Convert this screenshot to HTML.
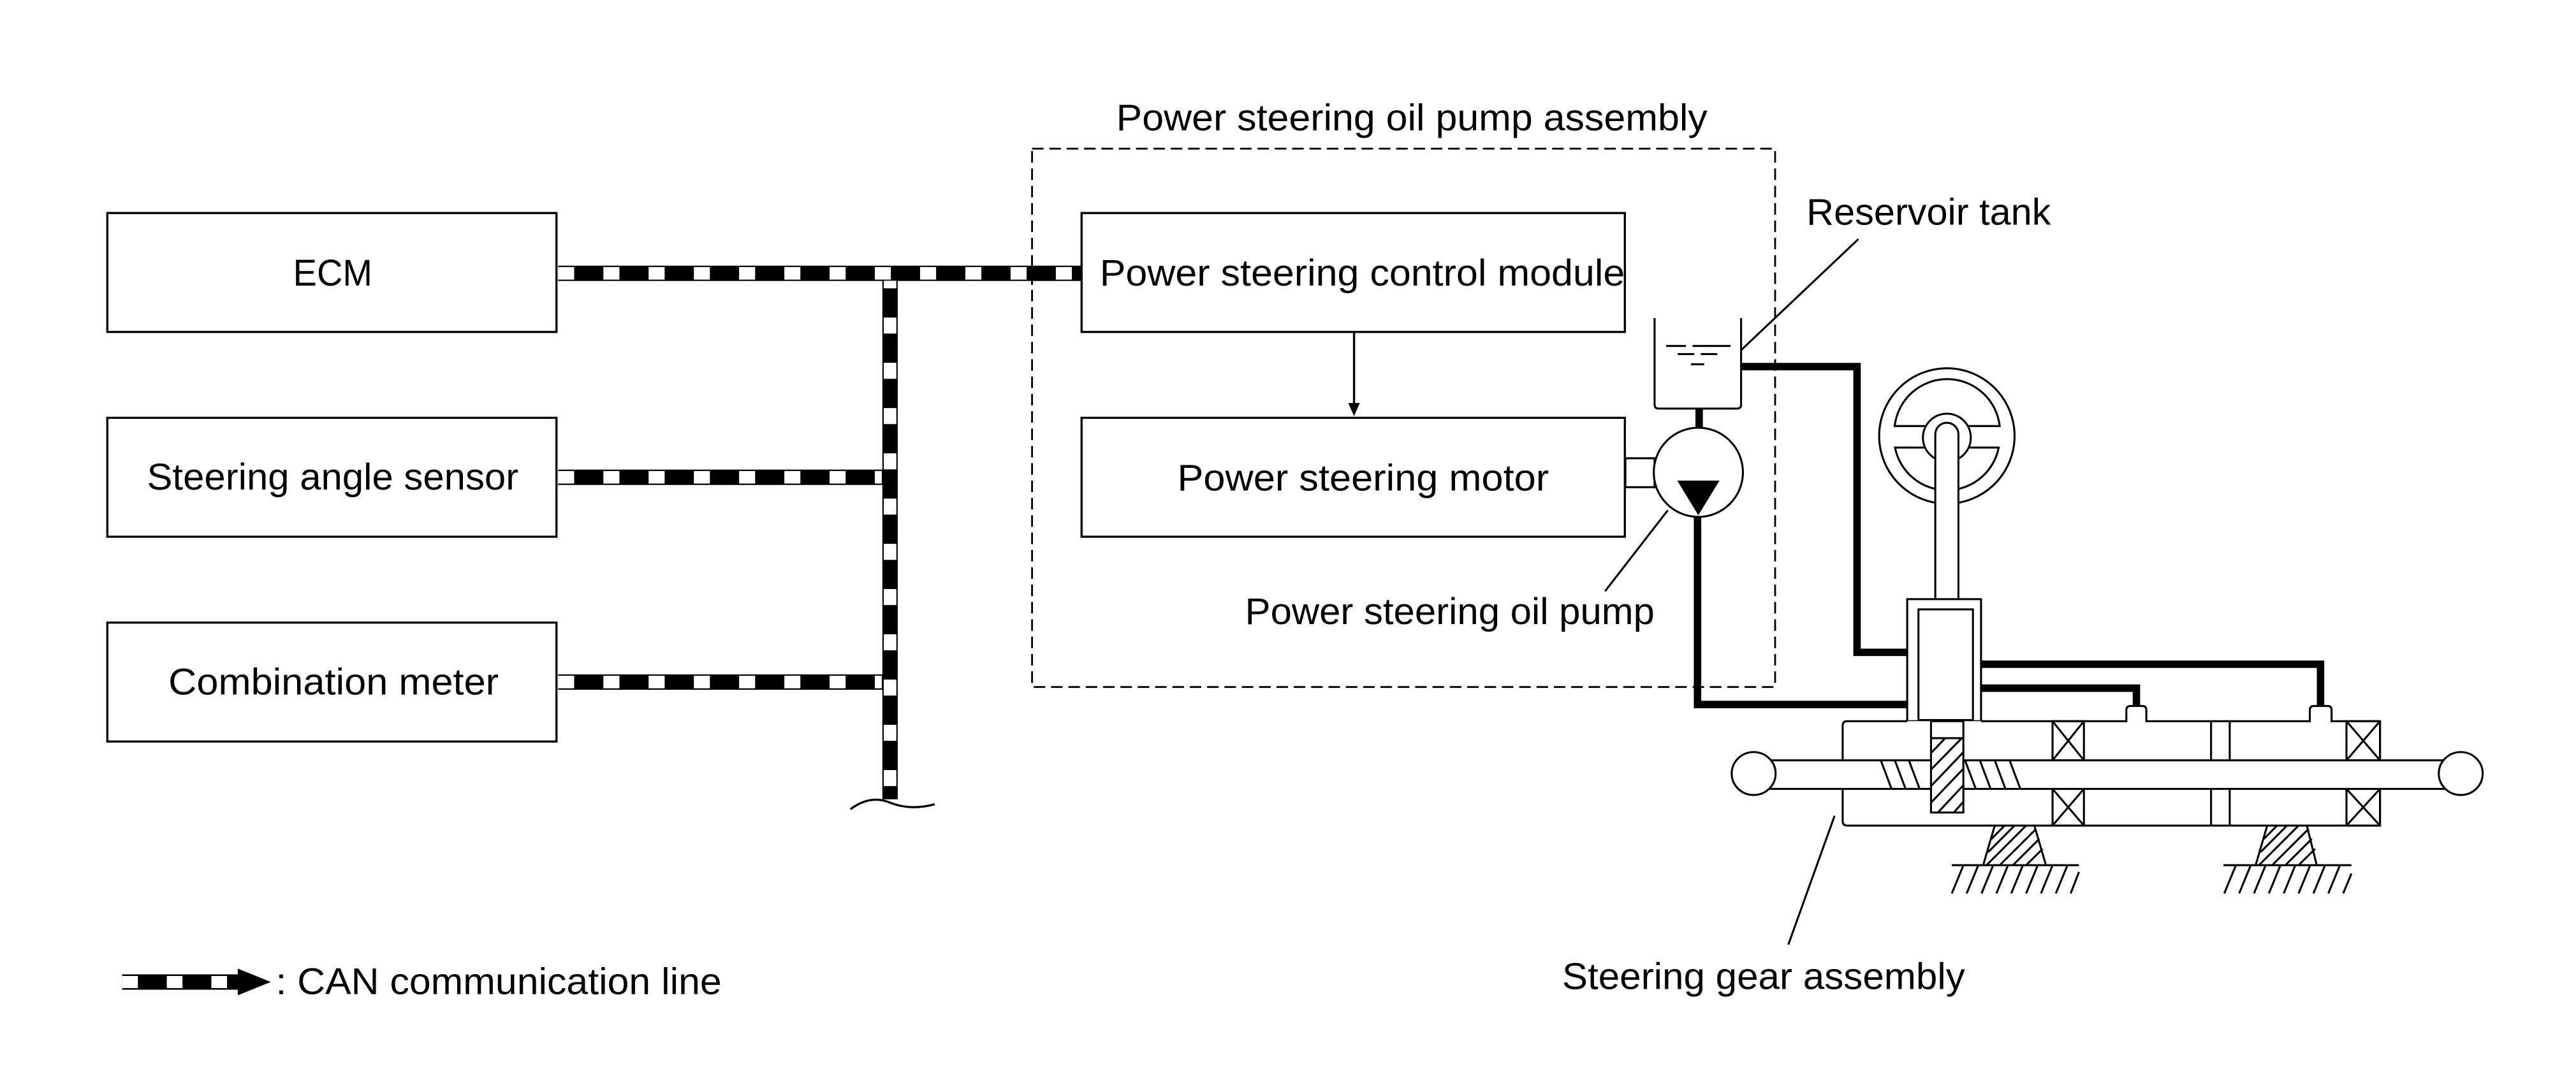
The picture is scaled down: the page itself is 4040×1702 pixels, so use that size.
<!DOCTYPE html>
<html><head><meta charset="utf-8"><style>
html,body{margin:0;padding:0;background:#fff;}
svg{display:block;}
text{font-family:"Liberation Sans",Arial,sans-serif;font-size:22.5px;fill:#000;}
</style></head><body>
<svg width="4040" height="1702" viewBox="0 0 1560 657" preserveAspectRatio="none" xmlns="http://www.w3.org/2000/svg">
<rect width="1560" height="657" fill="#fff"/>
<g fill="none" stroke="#000" stroke-width="1.3">
<!-- left boxes -->
<rect x="65" y="129" width="272" height="72"/>
<rect x="65" y="253" width="272" height="72"/>
<rect x="65" y="377" width="272" height="72"/>
<!-- dashed assembly -->
<rect x="625" y="90" width="450" height="326" stroke-dasharray="7 3.5" stroke-width="1.1"/>
<rect x="655" y="129" width="329" height="72" fill="#fff"/>
<rect x="655" y="253" width="329" height="72" fill="#fff"/>
<line x1="820" y1="201" x2="820" y2="246"/>
</g>
<polygon points="816.5,244 823.5,244 820,252" fill="#000"/>

<!-- CAN bus -->
<g fill="none">
<line x1="539" y1="161" x2="539" y2="484" stroke="#000" stroke-width="9.3"/>
<line x1="338" y1="165.5" x2="655" y2="165.5" stroke="#000" stroke-width="9.3"/>
<line x1="338" y1="289" x2="539" y2="289" stroke="#000" stroke-width="9.3"/>
<line x1="338" y1="413" x2="539" y2="413" stroke="#000" stroke-width="9.3"/>
<line x1="338" y1="165.5" x2="655" y2="165.5" stroke="#fff" stroke-width="7.6" stroke-dasharray="9.7 17.7"/>
<line x1="338" y1="289" x2="534" y2="289" stroke="#fff" stroke-width="7.6" stroke-dasharray="9.7 17.7"/>
<line x1="338" y1="413" x2="534" y2="413" stroke="#fff" stroke-width="7.6" stroke-dasharray="9.7 17.7"/>
<line x1="539" y1="170" x2="539" y2="484" stroke="#fff" stroke-width="7.6" stroke-dasharray="9.7 17.7" stroke-dashoffset="5.1"/>
<path d="M515,490 Q527,481 539,486 Q551,491 566,487" stroke="#000" stroke-width="1.3"/>
</g>
<!-- dashed line over CAN -->
<line x1="625" y1="155" x2="625" y2="176" stroke="#000" stroke-width="1.1" stroke-dasharray="7 3.5"/>

<!-- labels -->
<text x="177.5" y="173" textLength="48" lengthAdjust="spacingAndGlyphs">ECM</text>
<text x="89" y="296.5" textLength="225" lengthAdjust="spacingAndGlyphs">Steering angle sensor</text>
<text x="102" y="420.5" textLength="200" lengthAdjust="spacingAndGlyphs">Combination meter</text>
<text x="666" y="173" textLength="318" lengthAdjust="spacingAndGlyphs">Power steering control module</text>
<text x="713" y="297" textLength="225" lengthAdjust="spacingAndGlyphs">Power steering motor</text>
<text x="676" y="79" textLength="358" lengthAdjust="spacingAndGlyphs">Power steering oil pump assembly</text>
<text x="1094" y="136" textLength="148" lengthAdjust="spacingAndGlyphs">Reservoir tank</text>
<text x="754" y="378" textLength="248" lengthAdjust="spacingAndGlyphs">Power steering oil pump</text>
<text x="946" y="599" textLength="244" lengthAdjust="spacingAndGlyphs">Steering gear assembly</text>
<text x="167" y="602" textLength="270" lengthAdjust="spacingAndGlyphs">: CAN communication line</text>

<!-- legend arrow -->
<rect x="74" y="590" width="71" height="9.3" fill="#000"/>
<rect x="74" y="591" width="9.5" height="7.3" fill="#fff"/>
<rect x="101" y="591" width="9.5" height="7.3" fill="#fff"/>
<rect x="128" y="591" width="9.5" height="7.3" fill="#fff"/>
<polygon points="144,586.5 164,594.6 144,602.7" fill="#000"/>

<!-- hydraulic pipes -->
<g fill="none" stroke="#000" stroke-width="4.5" stroke-linejoin="miter">
<line x1="1029" y1="247" x2="1029" y2="262"/>
<polyline points="1054,222 1124.6,222 1124.6,395 1155,395"/>
<polyline points="1028,312 1028,426.6 1155,426.6"/>
<polyline points="1199.7,402.2 1405.3,402.2 1405.3,432"/>
<polyline points="1199.7,416.7 1293.8,416.7 1293.8,432"/>
</g>

<g fill="none" stroke="#000" stroke-width="1.2">
<!-- tank -->
<path d="M1002,192.6 V245 Q1002,247.4 1004.5,247.4 H1052 Q1054.4,247.4 1054.4,245 V192.6"/>
<line x1="1009" y1="209.5" x2="1021" y2="209.5"/>
<line x1="1025" y1="209.5" x2="1048" y2="209.5"/>
<line x1="1016" y1="214.4" x2="1026" y2="214.4"/>
<line x1="1030" y1="214.4" x2="1040" y2="214.4"/>
<line x1="1024" y1="220.6" x2="1032" y2="220.6"/>
<!-- leaders -->
<line x1="1125.4" y1="144.8" x2="1054.4" y2="212"/>
<line x1="1010" y1="309" x2="972" y2="358"/>
<line x1="1111" y1="494" x2="1083" y2="572"/>
<!-- motor connector -->
<rect x="984.3" y="277.5" width="17.7" height="17.5" fill="#fff"/>
<!-- pump -->
<circle cx="1028.5" cy="286" r="27" fill="#fff"/>
</g>
<polygon points="1015.7,291 1041.3,291 1028.5,312" fill="#000"/>

<!-- steering wheel -->
<g fill="none" stroke="#000" stroke-width="1.2">
<circle cx="1179" cy="264" r="41" fill="#fff"/>
<path d="M1147.4,258 A32,32 0 0 1 1211,258 Z"/>
<path d="M1147.6,271 A32,32 0 0 0 1210.4,271 Z"/>
<circle cx="1179" cy="265" r="14.5" fill="#fff"/>
<path d="M1172,369 V263 A7,7 0 0 1 1186,263 V369" fill="#fff"/>
<!-- valve -->
<rect x="1155" y="362.8" width="44.7" height="73.9" fill="#fff"/>
<rect x="1161.8" y="369" width="33" height="67" fill="#fff"/>
<!-- housing -->
<path d="M1155,436.7 H1118.5 Q1115.9,436.7 1115.9,439.5 V497.3 Q1115.9,499.9 1118.5,499.9 H1441.3 V436.7 H1412 V430 Q1412,427.5 1409.5,427.5 H1401.3 Q1398.8,427.5 1398.8,430 V436.7 H1299.8 V430 Q1299.8,427.5 1297.3,427.5 H1290.2 Q1287.7,427.5 1287.7,430 V436.7 H1199.7" fill="#fff"/>
<!-- bearings -->
<rect x="1243" y="436.7" width="19" height="23.7"/>
<path d="M1243,436.7 L1262,460.4 M1262,436.7 L1243,460.4"/>
<rect x="1243" y="477.7" width="19" height="22.2"/>
<path d="M1243,477.7 L1262,499.9 M1262,477.7 L1243,499.9"/>
<rect x="1421" y="436.7" width="20.3" height="23.7"/>
<path d="M1421,436.7 L1441.3,460.4 M1441.3,436.7 L1421,460.4"/>
<rect x="1421" y="477.7" width="20.3" height="22.2"/>
<path d="M1421,477.7 L1441.3,499.9 M1441.3,477.7 L1421,499.9"/>
<!-- piston -->
<path d="M1339,436.7 V460.4 M1350.3,436.7 V460.4 M1339,477.7 V499.9 M1350.3,477.7 V499.9"/>
<!-- rack -->
<rect x="1062" y="460.4" width="428.6" height="17.3" fill="#fff"/>
<path d="M1139,460.4 L1145.5,477.7 M1147.5,460.4 L1154,477.7 M1156,460.4 L1162.5,477.7 M1190,460.4 L1196.5,477.7 M1199,460.4 L1205.5,477.7 M1208,460.4 L1214.5,477.7 M1217,460.4 L1223.5,477.7"/>
<ellipse cx="1062" cy="468.4" rx="13.3" ry="13" fill="#fff"/>
<ellipse cx="1490.2" cy="468.4" rx="13.3" ry="13" fill="#fff"/>
<!-- pinion -->
<rect x="1169.4" y="436.7" width="19.6" height="55.3" fill="#fff"/>
<line x1="1169.4" y1="447" x2="1189" y2="447"/>
<path d="M1169.4,456 L1178,447 M1169.4,466 L1188,447 M1169.4,476 L1189,455.5 M1169.4,486 L1189,465.5 M1173.6,492 L1189,475.5 M1183.2,492 L1189,485.5"/>
<!-- mounts -->
<path d="M1208,499.9 L1201,523.9 M1232,499.9 L1239,523.9 M1182,523.9 H1259"/>
<path d="M1206,508 L1214,499.9 M1204,516 L1220,499.9 M1203,523.9 L1227,499.9 M1211,523.9 L1233,502 M1219,523.9 L1235,508 M1227,523.9 L1237,514"/>
<path d="M1182,541 L1189,524 M1191,541 L1198,524 M1200,541 L1207,524 M1209,541 L1216,524 M1218,541 L1225,524 M1227,541 L1234,524 M1236,541 L1243,524 M1245,541 L1252,524 M1254,541 L1259,528"/>
<path d="M1373,499.9 L1366,523.9 M1397,499.9 L1403,523.9 M1346.5,523.9 H1424"/>
<path d="M1371,508 L1379,499.9 M1369,516 L1385,499.9 M1368,523.9 L1392,499.9 M1376,523.9 L1398,502 M1384,523.9 L1400,508 M1392,523.9 L1402,514"/>
<path d="M1347,541 L1354,524 M1356,541 L1363,524 M1365,541 L1372,524 M1374,541 L1381,524 M1383,541 L1390,524 M1392,541 L1399,524 M1401,541 L1408,524 M1410,541 L1417,524 M1419,541 L1424,529"/>
</g>
</svg>
</body></html>
